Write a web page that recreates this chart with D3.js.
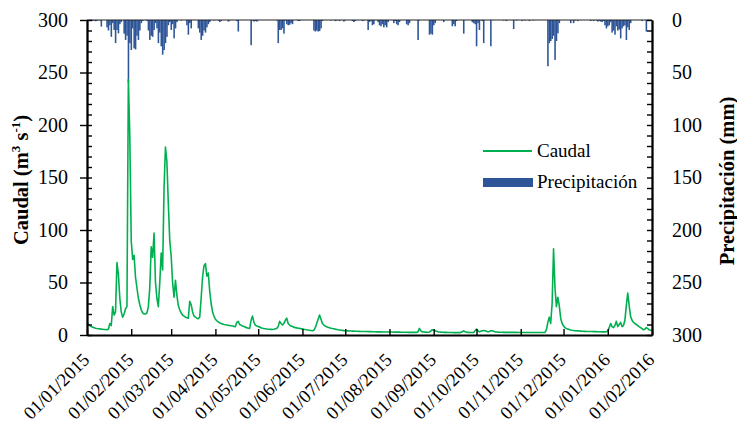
<!DOCTYPE html>
<html>
<head>
<meta charset="utf-8">
<script src="https://cdn.jsdelivr.net/npm/d3@7"></script>
<style>
  html, body { margin: 0; padding: 0; background: #fff; }
  svg { display: block; font-family: "Liberation Serif", "Times New Roman", serif; }
</style>
</head>
<body>
<svg id="chart" width="737" height="422"></svg>
<script>
// ---------------- DATA ----------------
const startDate = "2015-01-01";
const endDate = "2016-02-01";

// Daily discharge (m3 s-1), from 01/01/2015 to 01/02/2016
const caudal = [
  12, 10, 9, 8, 7.5, 7, 6.5, 6.2, 6, 5.8,
  5.6, 5.5, 5.3, 5.2, 5, 5.5, 11, 9, 27, 19,
  22, 69, 58, 35, 22, 17, 20, 25, 27, 243,
  190, 90, 72, 76, 55, 45, 35, 29, 24, 21,
  20, 20, 21, 27, 45, 84, 74, 97, 50, 35,
  27, 50, 78, 62, 140, 179, 165, 125, 90, 75,
  50, 36, 52, 38, 28, 24, 21, 19, 18, 17,
  16.5, 16, 32, 29, 22, 18, 17, 16, 15.5, 17,
  35, 55, 66, 68, 56, 59, 42, 30, 22, 18,
  15, 13.5, 12.5, 11.5, 11, 10.5, 10, 9.8, 9.5, 9.2,
  9, 8.8, 8.5, 8.2, 8, 12, 13, 10, 9.5, 8.5,
  8, 7.5, 7, 6.5, 6.3, 14, 18, 12, 9.5, 8.5,
  8, 7.5, 7, 6.5, 6.2, 6, 5.7, 5.5, 5.5, 5.4,
  5.3, 5.5, 6, 6.3, 8, 13, 11, 9.5, 11, 14,
  16, 11, 9.5, 8.5, 8, 7.5, 7, 6.8, 6.5, 6.3,
  6, 5.8, 5.5, 5.3, 5, 4.8, 4.5, 4.3, 4, 4.5,
  7, 11, 15, 19, 15, 11, 9.5, 8.5, 7.8, 7.2,
  7, 6.5, 6.2, 6, 5.6, 5.3, 5, 4.8, 4.6, 4.4,
  4.2, 4.1, 4, 3.9, 3.8, 3.8, 3.7, 3.7, 3.6, 3.6,
  3.5, 3.5, 3.4, 3.4, 3.3, 3.3, 3.3, 3.2, 3.2, 3.2,
  3.1, 3.1, 3.1, 3, 3, 3, 3, 2.9, 2.9, 2.9,
  2.9, 2.8, 2.8, 2.8, 2.8, 2.7, 2.7, 2.7, 2.7, 2.7,
  2.6, 2.6, 2.6, 2.6, 2.6, 2.5, 2.5, 2.5, 2.5, 2.5,
  2.5, 2.5, 3, 6.3, 4, 3, 2.8, 2.7, 2.6, 2.6,
  2.8, 4, 5, 4.5, 4, 3.5, 3, 2.8, 2.7, 2.6,
  2.5, 2.5, 2.5, 2.4, 2.4, 2.4, 2.4, 2.3, 2.3, 2.3,
  2.3, 2.3, 2.5, 3, 4, 3, 2.6, 2.5, 2.4, 2.4,
  2.4, 2.5, 4, 5.7, 4, 3, 3.5, 4, 4.2, 4,
  3.5, 3, 3.3, 4, 4, 3.5, 3, 2.8, 2.7, 2.6,
  2.6, 2.6, 2.5, 2.5, 2.5, 2.5, 2.5, 2.5, 2.5, 2.5,
  2.5, 2.5, 2.4, 2.4, 2.4, 2.4, 2.4, 2.4, 2.4, 2.4,
  2.4, 2.4, 2.4, 2.4, 2.4, 2.4, 2.4, 2.4, 2.4, 2.4,
  2.4, 2.5, 5, 12, 17, 11, 30, 82, 45, 27,
  36, 28, 16, 11, 8.5, 7, 6.2, 5.6, 5.2, 4.8,
  4.5, 4.3, 4.1, 4, 3.9, 3.8, 3.7, 3.6, 3.5, 3.5,
  3.4, 3.4, 3.3, 3.3, 3.3, 3.2, 3.2, 3.2, 3.1, 3.1,
  3.1, 3, 3, 3, 3.2, 3.5, 7, 11, 8, 7,
  9, 13, 8, 10, 12, 8, 9, 14, 28, 40,
  28, 17.5, 14, 12, 11, 10, 9, 8, 7, 6,
  5, 5.5, 7, 6, 5, 4.5, 4
];

// Daily precipitation (mm), from 01/01/2015
const precipitacion = [
  0, 0, 0, 0.8, 1, 0.5, 1.2, 0.8, 0, 0.5,
  6.3, 0, 0, 0, 7, 10, 5, 16, 3, 9.5,
  22, 9.5, 12.7, 4, 2, 0, 13, 19, 15, 60,
  22, 28.6, 8, 27, 28, 15, 19, 10, 3, 1,
  0, 0, 1, 10, 19, 15, 16, 9.5, 3, 8,
  22, 12, 25, 33, 28.6, 22, 16, 5, 2, 9.5,
  4, 17.5, 8, 2, 0, 0, 0.5, 0, 0, 0,
  5, 14, 3, 8, 0, 0, 0, 0, 8, 12,
  19, 15, 10, 12, 7, 4, 2, 0, 0, 0.5,
  0, 0, 0.5, 2, 1, 0, 0, 0, 0, 1.5,
  0.5, 0, 0, 0, 0, 1, 11, 0, 0, 0,
  0, 0, 0, 0, 0, 24, 0.5, 1.5, 1, 1.5,
  0.5, 0, 0, 0, 0, 0, 0, 0, 0, 0,
  0, 0, 0, 0.5, 22, 9.5, 9.5, 8, 13, 0.5,
  4, 5, 4.5, 3, 4, 0, 0, 0, 1, 1,
  0, 0, 0, 0, 0, 0, 0, 0, 0, 10,
  11, 10, 11, 10.5, 8, 1, 0, 0, 0, 0,
  0, 0.5, 0, 0, 1, 0.5, 0, 1, 0, 0,
  1.5, 0.5, 0, 0, 0, 0, 1, 2, 1, 0,
  0, 0, 0, 1, 0.5, 0, 0, 9.5, 2, 1,
  5, 4, 0, 0, 2, 5, 6, 4, 7, 5,
  7, 2, 0, 0, 0, 3, 1, 4, 5, 2,
  0, 0, 0, 0, 4, 5, 3, 0, 0, 0,
  0, 0, 19, 0.5, 0, 0, 0, 0, 0, 0,
  14, 13, 14, 5, 3, 0, 0, 0, 0, 0,
  2, 0, 0, 0, 0, 0, 6, 4, 6, 1,
  0, 0, 0, 0, 13, 0, 0, 0, 0, 0,
  2, 3, 4, 25, 3, 9.5, 0, 1, 22, 0,
  0, 0, 0, 25, 0, 0, 0, 0, 0, 0,
  0, 0, 0.5, 0, 1, 0, 0, 0, 0, 8.6,
  0, 0.5, 0, 0, 0, 1, 0, 0.5, 0, 0,
  1, 0, 0, 0.5, 0, 0, 0, 0, 0, 0,
  0, 0, 0, 44, 22, 20, 18, 15, 38, 20,
  12.7, 3, 0, 0, 0, 0, 0, 0, 0, 3,
  0, 3, 0.5, 0, 1, 0, 0, 0, 0, 0,
  0, 0, 0, 1, 0, 1, 0, 0.5, 1.5, 1,
  1.5, 2, 1, 5, 8, 6, 5, 2, 12, 10,
  14, 6, 10, 9, 17.5, 8, 6, 5, 19, 7,
  9.5, 3, 0, 0, 0, 0, 0, 0, 0, 1,
  0, 0, 11, 0, 0, 0
];

const xTickLabels = ["01/01/2015","01/02/2015","01/03/2015","01/04/2015","01/05/2015","01/06/2015",
  "01/07/2015","01/08/2015","01/09/2015","01/10/2015","01/11/2015","01/12/2015","01/01/2016","01/02/2016"];
const leftTicks = [0, 50, 100, 150, 200, 250, 300];
const rightTicks = [0, 50, 100, 150, 200, 250, 300];
const seriesNames = ["Caudal", "Precipitación"];

// ---------------- CHART ----------------
const svg = d3.select("#chart");
const FONT = "Liberation Serif";
const M = { left: 87, right: 652, top: 20, bottom: 335 };
const parse = d3.timeParse("%Y-%m-%d");
const parseTick = d3.timeParse("%d/%m/%Y");
const t0 = parse(startDate), t1 = parse(endDate);

const x = d3.scaleTime().domain([t0, t1]).range([M.left, M.right]);
const yQ = d3.scaleLinear().domain([0, 300]).range([M.bottom, M.top]);
const yP = d3.scaleLinear().domain([0, 300]).range([M.top, M.bottom]);

const green = "#00B050", blue = "#2E5597";
const dayOf = i => d3.timeDay.offset(t0, i);

// precipitation bars (hanging from top)
const bw = x(dayOf(1)) - x(dayOf(0));
svg.append("g").selectAll("rect")
  .data(precipitacion.map((v, i) => ({ d: dayOf(i), v })).filter(o => o.v > 0))
  .join("rect")
  .attr("x", o => x(o.d) - bw / 2)
  .attr("y", yP(0))
  .attr("width", bw + 0.15)
  .attr("height", o => yP(o.v) - yP(0))
  .attr("fill", blue);

// discharge line
svg.append("path")
  .datum(caudal.map((v, i) => ({ d: dayOf(i), v })))
  .attr("fill", "none")
  .attr("stroke", green)
  .attr("stroke-width", 1.6)
  .attr("stroke-linejoin", "round")
  .attr("d", d3.line().x(o => x(o.d)).y(o => yQ(o.v)));

// top frame line
svg.append("line").attr("x1", M.left).attr("x2", M.right).attr("y1", M.top).attr("y2", M.top)
  .attr("stroke", "#222").attr("stroke-width", 1);

const fontSize = 20;

// left axis: minor inward ticks every 10
const minor = d3.range(0, 301, 10);
const gL = svg.append("g").attr("transform", `translate(${M.left},0)`);
gL.call(d3.axisLeft(yQ).tickValues(minor).tickSize(-5).tickFormat("").tickSizeOuter(0));
gL.append("g").call(d3.axisLeft(yQ).tickValues(leftTicks).tickSize(7).tickSizeOuter(0).tickPadding(12).tickFormat(d3.format("d")));
gL.selectAll("path").attr("stroke", "#000").attr("stroke-width", 1.8);
gL.selectAll("line").attr("stroke", "#000").attr("stroke-width", 1.4);
gL.selectAll("text").attr("font-size", fontSize).attr("font-family", FONT).attr("fill", "#000");

// right axis
const gR = svg.append("g").attr("transform", `translate(${M.right},0)`);
gR.call(d3.axisRight(yP).tickValues(minor).tickSize(-5).tickFormat("").tickSizeOuter(0));
gR.append("g").call(d3.axisRight(yP).tickValues(rightTicks).tickSize(0).tickSizeOuter(0).tickPadding(20).tickFormat(d3.format("d")));
gR.selectAll("path").attr("stroke", "#000").attr("stroke-width", 1.8);
gR.selectAll("line").attr("stroke", "#000").attr("stroke-width", 1.4);
gR.selectAll("text").attr("font-size", fontSize).attr("font-family", FONT).attr("fill", "#000");

// bottom axis
const tickDates = xTickLabels.map(parseTick);
const gB = svg.append("g").attr("transform", `translate(0,${M.bottom})`);
gB.call(d3.axisBottom(x).tickValues(tickDates).tickSize(-6).tickSizeOuter(0).tickFormat(""));
gB.selectAll("path").attr("stroke", "#000").attr("stroke-width", 1.8);
gB.selectAll("line").attr("stroke", "#000").attr("stroke-width", 1.4);
svg.append("g").selectAll("text").data(xTickLabels).join("text")
  .attr("transform", (s, i) => `translate(${x(tickDates[i]) + 3.5},361) rotate(-45)`)
  .attr("text-anchor", "end")
  .attr("font-family", FONT)
  .attr("font-size", 18.5)
  .attr("fill", "#000")
  .text(s => s);

// axis titles
const tL = svg.append("text")
  .attr("transform", "translate(28,180) rotate(-90)")
  .attr("text-anchor", "middle").attr("font-family", FONT).attr("font-weight", "bold").attr("font-size", 20.5).attr("fill", "#000");
tL.append("tspan").text("Caudal (m");
tL.append("tspan").attr("dy", -8).attr("font-size", 13).text("3");
tL.append("tspan").attr("dy", 8).text(" s");
tL.append("tspan").attr("dy", -8).attr("font-size", 13).text("-1");
tL.append("tspan").attr("dy", 8).text(")");

svg.append("text")
  .attr("transform", "translate(734,181) rotate(-90)")
  .attr("text-anchor", "middle").attr("font-family", FONT).attr("font-weight", "bold").attr("font-size", 20.5).attr("fill", "#000")
  .text("Precipitación (mm)");

// legend
const lg = svg.append("g").attr("font-family", FONT);
lg.append("line").attr("x1", 483).attr("x2", 532).attr("y1", 151).attr("y2", 151)
  .attr("stroke", green).attr("stroke-width", 2);
lg.append("text").attr("x", 537).attr("y", 157).attr("font-size", 19).attr("fill", "#000").text(seriesNames[0]);
lg.append("rect").attr("x", 483).attr("y", 178).attr("width", 50).attr("height", 9).attr("fill", blue);
lg.append("text").attr("x", 537).attr("y", 188).attr("font-size", 19).attr("fill", "#000").text(seriesNames[1]);
</script>
</body>
</html>
